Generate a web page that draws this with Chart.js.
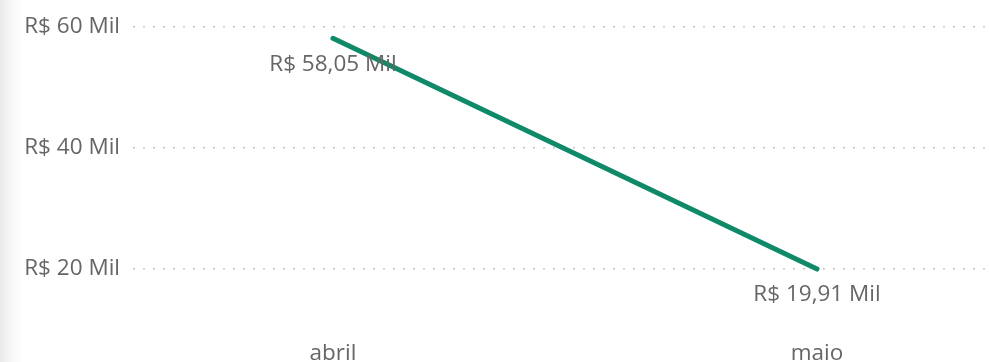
<!DOCTYPE html>
<html lang="pt-BR">
<head>
<meta charset="utf-8">
<title>Receita por mês</title>
<script src="https://cdn.jsdelivr.net/npm/chart.js@4.4.1/dist/chart.umd.min.js"></script>
<style>
  html, body { margin: 0; padding: 0; }
  body {
    width: 989px; height: 362px; overflow: hidden;
    background: linear-gradient(to right, #e9e9e9 0px, #f6f6f6 10px, #ffffff 22px);
  }
  #wrap { position: relative; width: 989px; height: 362px; }
  canvas { display: block; }
</style>
</head>
<body>
<div id="wrap"><canvas id="c" width="989" height="362"></canvas></div>
<script>
// Meses e valores (em milhares de reais)
const categories = ['abril', 'maio'];
const values = [58.05, 19.91];
const valueLabels = ['R$ 58,05 Mil', 'R$ 19,91 Mil'];
const yTicks = [20, 40, 60];

const FONT = "'Open Sans', 'Noto Sans', sans-serif";
const TEXT = '#666666';
const SIZE = 22.5;

const fmtMil = v => 'R$ ' + v + ' Mil';

// Rótulos de valor abaixo de cada ponto
const pointLabels = {
  id: 'pointLabels',
  afterDatasetsDraw(chart) {
    const ctx = chart.ctx;
    const meta = chart.getDatasetMeta(0);
    ctx.save();
    ctx.font = SIZE + 'px ' + FONT;
    ctx.fillStyle = TEXT;
    ctx.textAlign = 'center';
    ctx.textBaseline = 'middle';
    meta.data.forEach((pt, i) => {
      ctx.fillText(valueLabels[i], pt.x, pt.y + 26);
    });
    ctx.restore();
  }
};

new Chart(document.getElementById('c'), {
  type: 'line',
  data: {
    datasets: [{
      data: values.map((v, i) => ({ x: i, y: v })),
      borderColor: '#0f8a68',
      borderWidth: 5,
      borderCapStyle: 'round',
      pointRadius: 0,
      tension: 0
    }]
  },
  options: {
    responsive: false,
    animation: false,
    devicePixelRatio: 1,
    layout: { padding: { top: 25, right: 4, left: 0, bottom: 0 } },
    plugins: { legend: { display: false }, tooltip: { enabled: false } },
    scales: {
      x: {
        type: 'linear',
        min: -0.413,
        max: 1.347,
        afterBuildTicks: s => { s.ticks = categories.map((c, i) => ({ value: i })); },
        afterFit: s => { s.height = 33; },
        ticks: {
          callback: v => categories[v] ?? '',
          color: TEXT,
          font: { family: FONT, size: SIZE },
          padding: 11.5,
          maxRotation: 0,
          autoSkip: false
        },
        grid: { display: false, drawTicks: false },
        border: { display: false }
      },
      y: {
        min: 10,
        max: 60,
        afterBuildTicks: s => { s.ticks = yTicks.map(v => ({ value: v })); },
        afterFit: s => { s.width = 133; },
        ticks: {
          callback: v => fmtMil(v),
          color: TEXT,
          font: { family: FONT, size: SIZE },
          padding: 13
        },
        grid: {
          color: '#c6c6c6',
          lineWidth: 1.5,
          drawTicks: false
        },
        border: { display: false, dash: [2, 8] }
      }
    }
  },
  plugins: [pointLabels]
});
</script>
</body>
</html>
